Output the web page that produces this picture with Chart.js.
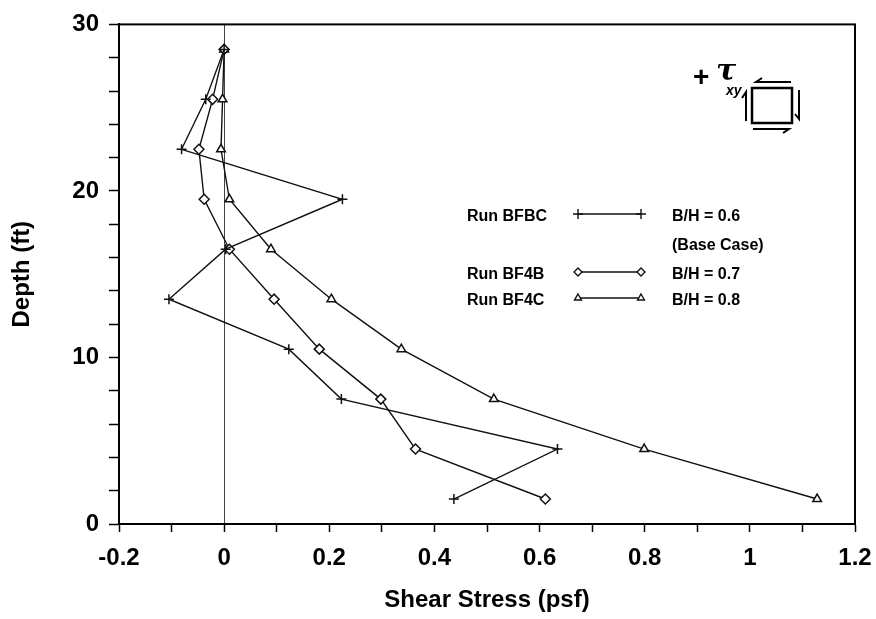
<!DOCTYPE html>
<html>
<head>
<meta charset="utf-8">
<title>Shear Stress vs Depth</title>
<script src="https://cdn.jsdelivr.net/npm/chart.js@4/dist/chart.umd.min.js"></script>
<style>
  html, body { margin: 0; padding: 0; background: #fff; }
  #wrap { width: 876px; height: 619px; }
</style>
</head>
<body>
<div id="wrap"><canvas id="grafico" width="876" height="619"></canvas></div>
<script>
// ===============================
// DATA
// ===============================

const depth = [28.5, 25.5, 22.5, 19.5, 16.5, 13.5, 10.5, 7.5, 4.5, 1.5];

// shear stress (psf) at each depth
const bfbc = [0, -0.035, -0.081, 0.225, 0.003, -0.105, 0.123, 0.223, 0.634, 0.437];
const bf4b = [0, -0.022, -0.048, -0.038, 0.010, 0.095, 0.181, 0.298, 0.364, 0.611];
const bf4c = [0, -0.003, -0.006, 0.010, 0.089, 0.204, 0.337, 0.513, 0.799, 1.128];

const runNames = ["Run BFBC", "Run BF4B", "Run BF4C"];
const ratioLabels = ["B/H = 0.6", "B/H = 0.7", "B/H = 0.8"];
const baseCaseNote = "(Base Case)";

const xTitle = "Shear Stress (psf)";
const yTitle = "Depth (ft)";

// ===============================
// HELPERS
// ===============================

const FONT = "'Liberation Sans', Arial, Helvetica, sans-serif";

function pontos(valores){
  return valores.map((v, i) => ({ x: v, y: depth[i] }));
}

const estilos = [
  { pointStyle: "cross", pointRadius: 5, backgroundColor: "#000" },
  { pointStyle: "rectRot", pointRadius: 5, backgroundColor: "#fff" },
  { pointStyle: "triangle", pointRadius: 5, backgroundColor: "#fff" }
];

function serie(label, valores, estilo){
  return {
    label,
    data: pontos(valores),
    showLine: true,
    borderColor: "#111",
    borderWidth: 1.4,
    pointBorderColor: "#111",
    pointBorderWidth: 1.5,
    pointBackgroundColor: estilo.backgroundColor,
    pointStyle: estilo.pointStyle,
    pointRadius: estilo.pointRadius,
    tension: 0
  };
}

// ===============================
// PLUGINS
// ===============================

// box around the plot area
const moldura = {
  id: "moldura",
  afterDraw(chart){
    const { ctx, chartArea: a } = chart;
    ctx.save();
    ctx.strokeStyle = "#000";
    ctx.lineWidth = 2;
    ctx.strokeRect(a.left, a.top, a.right - a.left, a.bottom - a.top);
    ctx.restore();
  }
};

// legend block drawn inside the plot
const legenda = {
  id: "legenda",
  afterDraw(chart){
    const { ctx } = chart;
    const linhas = [217, 275, 301];
    const xTexto = 467, xIni = 578, xFim = 641, xRatio = 672;

    ctx.save();
    ctx.fillStyle = "#000";
    ctx.font = "bold 16px " + FONT;
    ctx.textBaseline = "middle";
    ctx.textAlign = "left";

    linhas.forEach((y, i) => {
      const ds = chart.data.datasets[i];
      ctx.fillText(runNames[i], xTexto, y);
      ctx.fillText(ratioLabels[i], xRatio, y);

      const yl = y - 3;
      ctx.strokeStyle = "#111";
      ctx.lineWidth = 1.4;
      ctx.beginPath();
      ctx.moveTo(xIni, yl);
      ctx.lineTo(xFim, yl);
      ctx.stroke();

      const opts = {
        pointStyle: ds.pointStyle,
        radius: i === 0 ? 5 : 4,
        borderWidth: 1.4,
        rotation: 0
      };
      ctx.fillStyle = ds.pointBackgroundColor;
      ctx.strokeStyle = "#111";
      Chart.helpers.drawPoint(ctx, opts, xIni, yl);
      Chart.helpers.drawPoint(ctx, opts, xFim, yl);
      ctx.fillStyle = "#000";
    });

    ctx.fillText(baseCaseNote, xRatio, 246);
    ctx.restore();
  }
};

// sign convention sketch: +tau_xy with element and shear arrows
const sinal = {
  id: "sinal",
  afterDraw(chart){
    const { ctx } = chart;
    ctx.save();
    ctx.fillStyle = "#000";
    ctx.strokeStyle = "#000";
    ctx.textBaseline = "middle";
    ctx.textAlign = "left";

    ctx.font = "bold 28px " + FONT;
    ctx.fillText("+", 693, 78);
    ctx.font = "italic bold 30px 'DejaVu Serif', serif";
    ctx.fillText("\u03C4", 716, 72);
    ctx.font = "bold italic 14px " + FONT;
    ctx.fillText("xy", 726, 91);

    // element
    ctx.lineWidth = 2.5;
    ctx.strokeRect(752, 88, 40, 35);

    ctx.lineWidth = 2;
    ctx.beginPath();
    // top, pointing left
    ctx.moveTo(791, 82); ctx.lineTo(756, 82); ctx.lineTo(762, 78);
    // bottom, pointing right
    ctx.moveTo(753, 129); ctx.lineTo(789, 129); ctx.lineTo(783, 133);
    // left, pointing up
    ctx.moveTo(746, 121); ctx.lineTo(746, 92); ctx.lineTo(742, 98);
    // right, pointing down
    ctx.moveTo(799, 90); ctx.lineTo(799, 119); ctx.lineTo(795, 114);
    ctx.stroke();

    ctx.restore();
  }
};

// ===============================
// CHART
// ===============================

Chart.defaults.font.family = FONT;
Chart.defaults.font.weight = "bold";
Chart.defaults.color = "#000";

const ctx = document.getElementById("grafico").getContext("2d");

new Chart(ctx, {
  type: "scatter",
  data: {
    datasets: [
      serie(runNames[0], bfbc, estilos[0]),
      serie(runNames[1], bf4b, estilos[1]),
      serie(runNames[2], bf4c, estilos[2])
    ]
  },
  options: {
    responsive: false,
    animation: false,
    layout: { padding: { top: 21, right: 21, left: 0, bottom: 0 } },
    plugins: {
      legend: { display: false },
      tooltip: { enabled: false }
    },
    scales: {
      x: {
        type: "linear",
        min: -0.2,
        max: 1.2,
        afterFit(scale){
          scale.height = 95;
          // let the end labels hang past the plot edges
          scale.paddingLeft = 0;
          scale.paddingRight = 0;
        },
        border: { display: true, color: "#000", width: 2 },
        grid: {
          drawOnChartArea: true,
          color: c => (c.tick && Math.abs(c.tick.value) < 1e-9) ? "#444" : "rgba(0,0,0,0)",
          lineWidth: 1,
          tickColor: "#000",
          tickLength: 8,
          tickWidth: 1.5
        },
        ticks: {
          stepSize: 0.1,
          autoSkip: false,
          maxRotation: 0,
          padding: 12,
          font: { size: 24, weight: "bold" },
          callback(v){
            const d = Math.round(v * 10);
            if (d % 2 !== 0) return "";
            return String(+(d / 10).toFixed(1));
          }
        },
        title: {
          display: true,
          text: xTitle,
          font: { size: 24, weight: "bold" },
          padding: { top: 0, bottom: 4 }
        }
      },
      y: {
        type: "linear",
        min: 0,
        max: 30,
        afterFit(scale){ scale.width = 119; },
        border: { display: true, color: "#000", width: 2 },
        grid: {
          drawOnChartArea: false,
          tickColor: "#000",
          tickLength: 10,
          tickWidth: 1.5
        },
        ticks: {
          stepSize: 2,
          autoSkip: false,
          padding: 10,
          font: { size: 24, weight: "bold" },
          callback(v){ return v % 10 === 0 ? String(v) : ""; }
        },
        title: {
          display: true,
          text: yTitle,
          font: { size: 24, weight: "bold" },
          padding: { top: 8, bottom: 0 }
        }
      }
    }
  },
  plugins: [moldura, legenda, sinal]
});
</script>
</body>
</html>
